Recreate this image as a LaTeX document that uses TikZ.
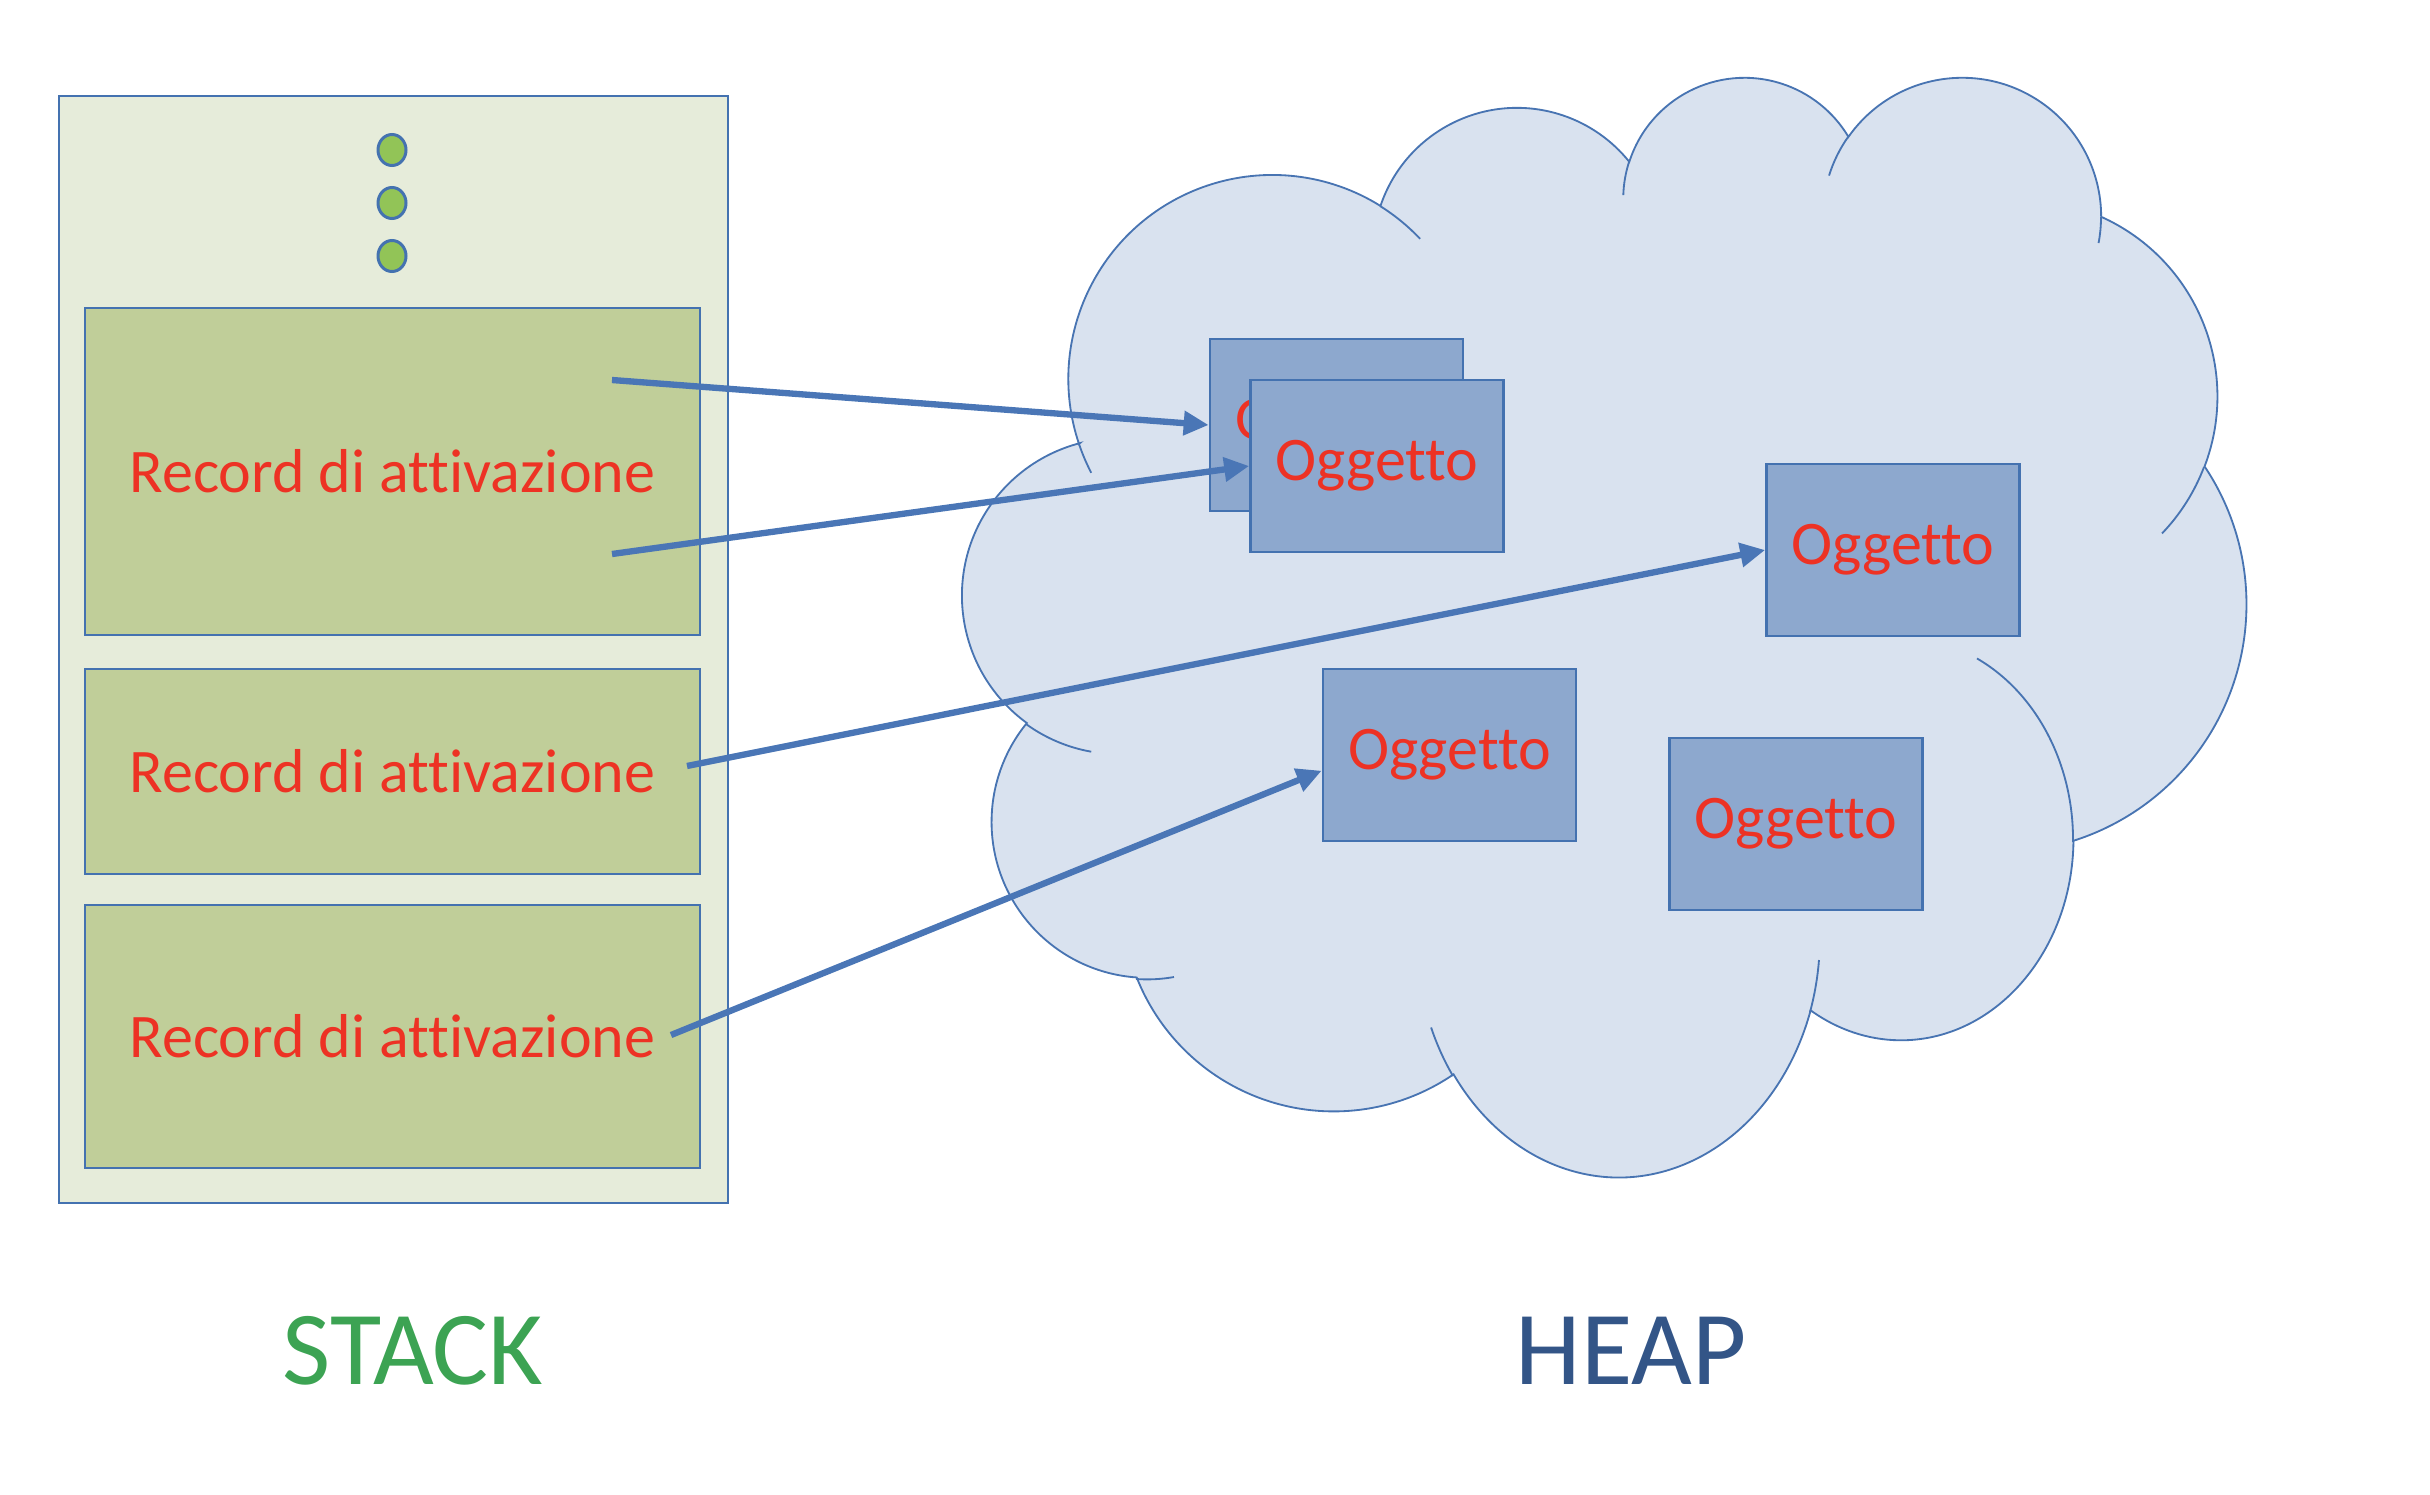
\documentclass[tikz,border=0pt]{standalone}
\usepackage{fontspec}
\setmainfont{Carlito}[Ligatures=NoCommon]
\usetikzlibrary{arrows.meta,shapes.geometric}

\definecolor{stackbg}{RGB}{230,236,218}
\definecolor{recfill}{RGB}{192,206,153}
\definecolor{boxline}{RGB}{68,114,176}
\definecolor{objfill}{RGB}{141,168,206}
\definecolor{cloudfill}{RGB}{217,226,239}
\definecolor{cloudline}{RGB}{72,116,178}
\definecolor{ptrblue}{RGB}{74,118,182}
\definecolor{dotgreen}{RGB}{146,196,87}
\definecolor{txtred}{RGB}{237,50,36}
\definecolor{stackgreen}{RGB}{60,163,83}
\definecolor{heapblue}{RGB}{51,85,135}

\begin{document}
\begin{tikzpicture}[x=0.3pt,y=0.3pt,yscale=-1,xscale=1,
  rec/.style={draw=boxline,line width=0.8pt,fill=recfill,minimum width=184.5pt,inner sep=0pt,text=txtred,font=\fontsize{18.6}{22}\selectfont},
  obj/.style={draw=boxline,line width=0.8pt,fill=objfill,minimum width=75.9pt,minimum height=51.6pt,inner sep=0pt,text=txtred,font=\fontsize{18.6}{22}\selectfont},
  dotnode/.style={ellipse,draw=boxline,line width=0.9pt,fill=dotgreen,minimum width=8.4pt,minimum height=9.3pt,inner sep=0pt},
  hint/.style={draw=cloudline,line width=0.55pt},
  ptr/.style={draw=ptrblue,line width=1.9pt,-{Triangle[length=7.5pt,width=7pt]}},
  lbl/.style={inner sep=0pt,font=\fontsize{31.5}{36}\selectfont}]
\useasboundingbox (0,0) rectangle (2430,1494);

%Stack
\node[draw=boxline,line width=0.7pt,fill=stackbg,minimum width=200.7pt,minimum height=332.1pt,inner sep=0pt] (stack) at (393.5,649.5) {};
\node[dotnode] (dot1) at (392,150) {};
\node[dotnode] (dot2) at (392,203) {};
\node[dotnode] (dot3) at (392,256) {};
\node[rec,minimum height=98.1pt] (rec1) at (392.5,471.5) {Record di attivazione};
\node[rec,minimum height=61.5pt] (rec2) at (392.5,771.5) {Record di attivazione};
\node[rec,minimum height=78.9pt] (rec3) at (392.5,1036.5) {Record di attivazione};

%Shape: Cloud
\draw[draw=cloudline,line width=0.55pt,fill=cloudfill] (1079,444)
  arc[start angle=161.4,end angle=302,radius=204]
  arc[start angle=198.6,end angle=321.3,radius=144]
  arc[start angle=197.8,end angle=329.2,radius=121]
  arc[start angle=215.1,end angle=360,radius=139]
  arc[start angle=294.2,end angle=380.8,radius=197]
  arc[start angle=326.2,end angle=432.4,radius=248]
  arc[start angle=0.7,end angle=121.6,x radius=172.5,y radius=202]
  arc[start angle=18,end angle=145,x radius=201.7,y radius=241.9]
  arc[start angle=55.6,end angle=158.4,radius=212]
  arc[start angle=94,end angle=219.3,radius=156]
  arc[start angle=126,end angle=255.5,radius=157.5] -- cycle;
%cloud inner arcs
\draw[hint] (1079,444) arc[start angle=161.4,end angle=152.6,radius=204];
\draw[hint] (1380,206) arc[start angle=302,end angle=316.6,radius=204];
\draw[hint] (1629,162) arc[start angle=197.8,end angle=181.8,radius=121];
\draw[hint] (1848,137) arc[start angle=215.1,end angle=197.3,radius=139];
\draw[hint] (2101,217) arc[start angle=0,end angle=10.8,radius=139];
\draw[hint] (2204,467) arc[start angle=20.8,end angle=43.8,radius=197];
\draw[hint] (2073,842) arc[start angle=0.7,end angle=-63.7,x radius=172.5,y radius=202];
\draw[hint] (1810,1012) arc[start angle=18,end angle=5.4,x radius=201.7,y radius=241.9];
\draw[hint] (1453,1076) arc[start angle=145,end angle=158.1,x radius=201.7,y radius=241.9];
\draw[hint] (1136,979) arc[start angle=94,end angle=80,radius=156];
\draw[hint] (1026,724) arc[start angle=126,end angle=100,radius=157.5];

%Objects
\node[obj] (objback) at (1336.5,425) {Oggetto};
\node[obj] (objfront) at (1377,466) {Oggetto};
\node[obj] (objright) at (1893,550) {Oggetto};
\node[obj] (objmid) at (1449.5,755) {Oggetto};
\node[obj] (objlow) at (1796,824) {Oggetto};

%Pointers
\coordinate (p1) at (612,380);
\coordinate (p2) at (612,554);
\coordinate (p3) at (687,766);
\coordinate (p4) at (671,1035);
\draw[ptr] (p1) -- (objback.west);
\draw[ptr] (p2) -- (objfront.west);
\draw[ptr] (p3) -- (objright.west);
\draw[ptr] (p4) -- (objmid.187);

% Text Node
\node[lbl,text=stackgreen] (stacklbl) at (413,1351) {STACK};
% Text Node
\node[lbl,text=heapblue] (heaplbl) at (1631,1351) {HEAP};
\end{tikzpicture}
\end{document}
